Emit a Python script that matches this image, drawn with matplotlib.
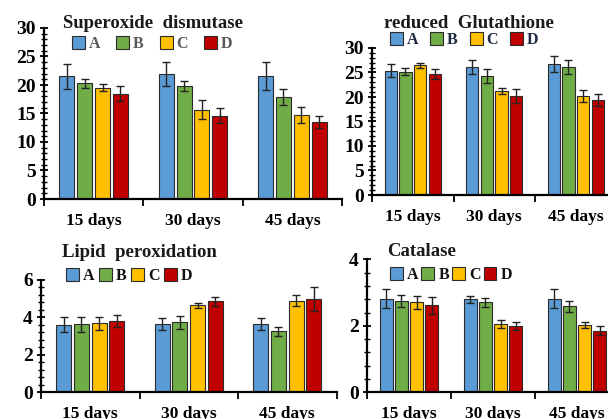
import matplotlib
matplotlib.use("Agg")
import matplotlib.pyplot as plt
from matplotlib.ticker import MultipleLocator, FixedLocator
from matplotlib.patches import Patch
import numpy as np

plt.rcParams['font.family'] = ['Liberation Serif', 'DejaVu Serif']
plt.rcParams['font.weight'] = 'bold'

days = ["15 days", "30 days", "45 days"]
groups = ["A", "B", "C", "D"]
colors = ["#5B9BD5", "#70AD47", "#FFC000", "#C00000"]

# rows: A, B, C, D ; columns: 15, 30, 45 days
sod_mean = [[21.5, 21.9, 21.6], [20.3, 19.8, 17.9], [19.5, 15.7, 14.7], [18.5, 14.6, 13.5]]
sod_err = [[2.2, 2.1, 2.4], [0.8, 0.9, 1.4], [0.6, 1.6, 1.4], [1.3, 1.3, 1.1]]

gsh_mean = [[25.4, 26.1, 26.7], [25.2, 24.3, 26.1], [26.5, 21.2, 20.2], [24.7, 20.2, 19.4]]
gsh_err = [[1.3, 1.4, 1.7], [0.7, 1.4, 1.4], [0.5, 0.6, 1.2], [1.1, 1.5, 1.2]]

lpo_mean = [[3.60, 3.65, 3.63], [3.62, 3.74, 3.25], [3.67, 4.65, 4.89], [3.80, 4.86, 4.98]]
lpo_err = [[0.40, 0.33, 0.32], [0.42, 0.35, 0.25], [0.36, 0.14, 0.30], [0.30, 0.23, 0.62]]

cat_mean = [[2.82, 2.80, 2.82], [2.75, 2.71, 2.59], [2.71, 2.05, 2.01], [2.62, 1.99, 1.85]]
cat_err = [[0.28, 0.10, 0.28], [0.18, 0.14, 0.17], [0.19, 0.12, 0.09], [0.26, 0.11, 0.14]]

W, H = 608, 419
fig = plt.figure(figsize=(W / 100, H / 100), dpi=100)


def px_axes(x0, x1, ytop, ybot):
    return fig.add_axes([x0 / W, 1 - ybot / H, (x1 - x0) / W, (ybot - ytop) / H])


def draw_panel(ax, means, errs, ymax, major, minor, title, tpos, lpos, legcolor, colsp):
    x = np.arange(len(days))
    for i, g in enumerate(groups):
        ax.bar(x + (i - 1.5) * 0.18, means[i], 0.15, color=colors[i],
               edgecolor="#2b2b2b", linewidth=0.8, zorder=2)
        ax.errorbar(x + (i - 1.5) * 0.18, means[i], yerr=errs[i], fmt='none',
                    ecolor="#222222", elinewidth=1.0, capsize=2.8, capthick=1.0, zorder=3)
    ax.set_xlim(-0.5, len(days) - 0.5)
    ax.set_ylim(0, ymax)
    ax.set_xticks(x)
    ax.set_xticklabels(days, fontsize=12.5, fontweight='bold')
    ax.xaxis.set_minor_locator(FixedLocator(np.arange(-0.5, len(days), 1.0)))
    ax.tick_params(axis='x', which='major', length=0, pad=10)
    ax.tick_params(axis='x', which='minor', length=5, width=1.3, direction='out')
    ax.yaxis.set_major_locator(MultipleLocator(major))
    ax.yaxis.set_minor_locator(MultipleLocator(minor))
    ax.tick_params(axis='y', which='major', length=6, width=1.3, direction='inout', labelsize=14, pad=3)
    ax.tick_params(axis='y', which='minor', length=4, width=1.0, direction='inout')
    for lbl in ax.get_yticklabels():
        lbl.set_fontweight('bold')
    for s in ['top', 'right']:
        ax.spines[s].set_visible(False)
    for s in ['left', 'bottom']:
        ax.spines[s].set_linewidth(1.6)
        ax.spines[s].set_color('black')
    ax.set_facecolor('none')
    fig.text(tpos[0] / W, 1 - tpos[1] / H, title, fontsize=13.5, fontweight='bold',
             ha='left', va='center', color='#1a1a1a')
    handles = [Patch(facecolor=colors[i], edgecolor="#2b2b2b", linewidth=0.8, label=g)
               for i, g in enumerate(groups)]
    leg = fig.legend(handles=handles, ncol=4, loc='center left',
                     bbox_to_anchor=(lpos[0] / W, 1 - lpos[1] / H), frameon=False,
                     handlelength=0.8, handleheight=0.8, handletextpad=0.25,
                     columnspacing=colsp, borderaxespad=0, borderpad=0,
                     prop={'size': 11.5, 'weight': 'bold'})
    for t in leg.get_texts():
        t.set_color(legcolor)


ax1 = px_axes(44, 342, 28, 199)
draw_panel(ax1, sod_mean, sod_err, 30, 5, 1, "Superoxide  dismutase", (63, 23), (72, 44), "#595959", 1.0)

ax2 = px_axes(372, 616.5, 48, 195)
draw_panel(ax2, gsh_mean, gsh_err, 30, 5, 1, "reduced  Glutathione", (384, 24), (390, 40), "#1f2a44", 0.75)

ax3 = px_axes(41, 336.5, 280, 392)
draw_panel(ax3, lpo_mean, lpo_err, 6, 2, 0.4, "Lipid  peroxidation", (62, 252), (66, 276), "#111111", 0.3)

ax4 = px_axes(367, 619, 259.3, 392.3)
draw_panel(ax4, cat_mean, cat_err, 4, 2, 0.4, "Catalase", (387, 251), (390, 275), "#111111", 0.2)

fig.savefig("out.png", dpi=100)
